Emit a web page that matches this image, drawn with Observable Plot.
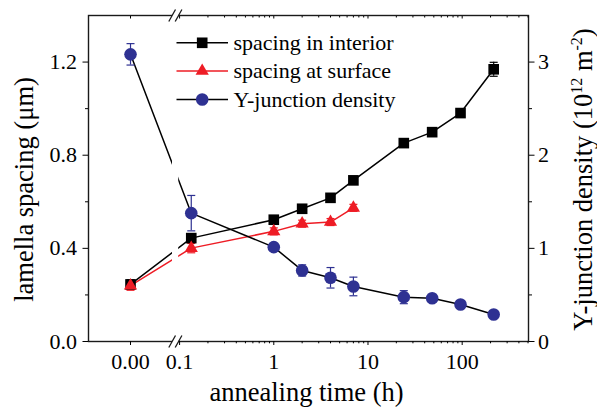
<!DOCTYPE html>
<html>
<head>
<meta charset="utf-8">
<script src="https://cdn.jsdelivr.net/npm/d3@7"></script>
<script src="https://cdn.jsdelivr.net/npm/@observablehq/plot@0.6"></script>
<style>
  html, body { margin: 0; padding: 0; background: #fff; }
  #chart svg { display: block; }
  #chart svg text { font-family: 'Liberation Serif', 'Times New Roman', serif !important; }
</style>
</head>
<body>
<div id="chart"></div>
<script>
// ---------------- data ----------------
const timeInterior = [0, 0.133, 1, 2, 4, 7, 24, 48, 96, 216];
const spacingInterior = [0.245, 0.444, 0.523, 0.570, 0.617, 0.692, 0.852, 0.899, 0.981, 1.169];
const errInterior = [0.02, 0.015, 0.01, 0.01, 0.01, 0.01, 0.015, 0.015, 0.015, 0.03];

const timeSurface = [0, 0.133, 1, 2, 4, 7];
const spacingSurface = [0.240, 0.401, 0.473, 0.506, 0.513, 0.574];
const errSurface = [0.02, 0.02, 0.015, 0.015, 0.015, 0.015];

const timeDensity = [0, 0.133, 1, 2, 4, 7, 24, 48, 96, 216];
const density = [3.083, 1.378, 1.013, 0.763, 0.684, 0.591, 0.476, 0.465, 0.397, 0.290];
const errDensity = [0.115, 0.19, 0.04, 0.06, 0.11, 0.10, 0.07, 0.04, 0.03, 0.03];

const xTickValues = [0, 0.1, 1, 10, 100];
const xTickLabels = ["0.00", "0.1", "1", "10", "100"];
const xMinorValues = [0.2, 0.3, 0.4, 0.5, 0.6, 0.7, 0.8, 0.9,
                      2, 3, 4, 5, 6, 7, 8, 9,
                      20, 30, 40, 50, 60, 70, 80, 90,
                      200, 300, 400, 500];
const yTickValues = [0, 0.4, 0.8, 1.2];
const yTickLabels = ["0.0", "0.4", "0.8", "1.2"];
const yMinorValues = [0.2, 0.6, 1.0];
const densityTickLabels = ["0", "1", "2", "3"];
const legendLabels = ["spacing in interior", "spacing at surface", "Y-junction density"];

const xLabel = "annealing time (h)";
const yLabel = "lamella spacing (\u03bcm)";
const y2Label = "Y-junction density (10^12 m^-2)";

// ---------------- layout / styling ----------------
const W = 597, H = 410;
const ML = 88, MR = 69, MT = 15, MB = 69;
const X_DOMAIN = [-1.967, 2.704];   // in "broken-axis" units (log10 for t >= 0.1)
const Y_DOMAIN = [0, 1.4];
const U_ZERO = -1.521;              // where t = 0 sits on the broken axis
const DENSITY_RATIO = 2.5;          // right axis units per left axis unit
const RED = "#ee1c25";
const NAVY = "#2e3192";
const FONT = "Liberation Serif";

const pos = t => (t === 0 ? U_ZERO : Math.log10(t));
const xPx2u = px => X_DOMAIN[0] + (px - ML) / (W - ML - MR) * (X_DOMAIN[1] - X_DOMAIN[0]);
const yPx2v = py => Y_DOMAIN[0] + (H - MB - py) / (H - MB - MT) * (Y_DOMAIN[1] - Y_DOMAIN[0]);

const interior = timeInterior.map((t, i) => ({u: pos(t), v: spacingInterior[i], e: errInterior[i]}));
const surface = timeSurface.map((t, i) => ({u: pos(t), v: spacingSurface[i], e: errSurface[i]}));
const dens = timeDensity.map((t, i) => ({u: pos(t), v: density[i] / DENSITY_RATIO, e: errDensity[i] / DENSITY_RATIO}));

const capSymbol = { draw(ctx) { ctx.moveTo(-4, 0); ctx.lineTo(4, 0); } };

const errBars = (data, color) => [
  Plot.ruleX(data, {x: "u", y1: d => d.v - d.e, y2: d => d.v + d.e, stroke: color, strokeWidth: 1.2}),
  Plot.dot(data, {x: "u", y: d => d.v - d.e, symbol: capSymbol, stroke: color, strokeWidth: 1.2, fill: "none"}),
  Plot.dot(data, {x: "u", y: d => d.v + d.e, symbol: capSymbol, stroke: color, strokeWidth: 1.2, fill: "none"})
];

// legend rows
const legendRowsPy = [42.3, 70.5, 99];
const legendStyles = [
  {line: "black", symbol: "square", fill: "black", r: 6},
  {line: RED, symbol: "triangle", fill: RED, r: 4.9},
  {line: "black", symbol: "circle", fill: NAVY, r: 6.3}
];
const legendMarks = legendLabels.flatMap((label, i) => {
  const y = yPx2v(legendRowsPy[i]);
  const s = legendStyles[i];
  return [
    Plot.link([label], {x1: () => xPx2u(176), x2: () => xPx2u(227.5), y1: () => y, y2: () => y, stroke: s.line, strokeWidth: 1.5}),
    Plot.dot([label], {x: () => xPx2u(201.7), y: () => y, symbol: s.symbol, r: s.r, fill: s.fill, stroke: "none"}),
    Plot.text([label], {x: () => xPx2u(233), y: () => y, text: d => d, textAnchor: "start", lineAnchor: "middle", fontSize: 22, fontFamily: FONT, fill: "black"})
  ];
});

// axis-break slashes (pixel layout converted to data units)
const breakSlashes = [];
for (const axisPy of [H - MB, MT]) {
  for (const off of [0, 6.4]) {
    breakSlashes.push({x1: xPx2u(168.3 + off), y1: yPx2v(axisPy + 6), x2: xPx2u(175 + off), y2: yPx2v(axisPy - 6)});
  }
}

const plot = Plot.plot({
  width: W, height: H,
  marginLeft: ML, marginRight: MR, marginTop: MT, marginBottom: MB,
  style: {fontFamily: FONT, fontSize: "22px", color: "black", background: "white"},
  x: {type: "linear", domain: X_DOMAIN},
  y: {type: "linear", domain: Y_DOMAIN},
  marks: [
    // connecting lines
    Plot.line(interior, {x: "u", y: "v", stroke: "black", strokeWidth: 1.5}),
    Plot.line(surface, {x: "u", y: "v", stroke: RED, strokeWidth: 1.5}),
    Plot.line(dens, {x: "u", y: "v", stroke: "black", strokeWidth: 1.5}),
    // frame
    Plot.frame({stroke: "#1a1a1a", strokeWidth: 1.4}),
    // axis break white band
    Plot.rect([0], {x1: () => xPx2u(172), x2: () => xPx2u(178.2), y1: () => yPx2v(H - MB + 2), y2: () => yPx2v(MT - 2), fill: "white"}),
    Plot.link(breakSlashes, {x1: "x1", y1: "y1", x2: "x2", y2: "y2", stroke: "#1a1a1a", strokeWidth: 1.3}),
    // axes
    Plot.axisX({anchor: "bottom", ticks: xTickValues.map(pos), tickFormat: (d, i) => xTickLabels[i], tickSize: 4, tickPadding: 8, fontSize: 22, fontFamily: FONT, fontVariant: "normal", label: null}),
    Plot.axisX({anchor: "bottom", ticks: xMinorValues.map(pos), tickFormat: () => "", tickSize: 2.3, label: null}),
    Plot.axisX({anchor: "top", ticks: xTickValues.map(pos), tickFormat: () => "", tickSize: 2.5, dy: 2.5, label: null}),
    Plot.axisX({anchor: "top", ticks: xMinorValues.map(pos), tickFormat: () => "", tickSize: 1.5, dy: 1.5, label: null}),
    Plot.axisY({anchor: "left", ticks: yTickValues, tickFormat: (d, i) => yTickLabels[i], tickSize: 5.5, tickPadding: 6, fontSize: 22, fontFamily: FONT, fontVariant: "normal", label: null}),
    Plot.axisY({anchor: "left", ticks: yMinorValues, tickFormat: () => "", tickSize: 3, label: null}),
    Plot.axisY({anchor: "right", ticks: yTickValues, tickFormat: (d, i) => densityTickLabels[i], tickSize: 5.5, tickPadding: 4, fontSize: 22, fontFamily: FONT, fontVariant: "normal", label: null}),
    Plot.axisY({anchor: "right", ticks: yMinorValues, tickFormat: () => "", tickSize: 3, label: null}),
    // error bars
    ...errBars(interior, "black"),
    ...errBars(surface, RED),
    ...errBars(dens, NAVY),
    // markers
    Plot.dot(interior, {x: "u", y: "v", symbol: "square", r: 6, fill: "black", stroke: "none"}),
    Plot.dot(surface, {x: "u", y: "v", symbol: "triangle", r: 4.9, fill: RED, stroke: "none"}),
    Plot.dot(dens, {x: "u", y: "v", symbol: "circle", r: 6.3, fill: NAVY, stroke: "none"}),
    // legend
    ...legendMarks,
    // axis titles
    Plot.text([xLabel], {frameAnchor: "bottom", text: d => d, textAnchor: "middle", dx: -2, dy: 51.5, lineAnchor: "middle", fontSize: 26.5, fontFamily: FONT, fill: "black"}),
    Plot.text([yLabel], {frameAnchor: "left", text: d => d, textAnchor: "middle", rotate: -90, dx: -63.5, dy: 11, lineAnchor: "middle", fontSize: 26.5, fontFamily: FONT, fill: "black"}),
    Plot.text([y2Label], {frameAnchor: "right", text: d => d, textAnchor: "middle", rotate: -90, dx: 55.5, dy: 1, lineAnchor: "middle", fontSize: 26.5, fontFamily: FONT, fill: "black"})
  ]
});

document.getElementById("chart").appendChild(plot);

// superscripts on right-axis title
d3.select(plot).selectAll("text")
  .filter(function () { return this.textContent === y2Label; })
  .each(function () {
    const t = d3.select(this);
    t.text(null);
    t.append("tspan").text("Y-junction density (10");
    t.append("tspan").attr("dy", -10).attr("font-size", "16px").text("12");
    t.append("tspan").attr("dy", 10).text(" m");
    t.append("tspan").attr("dy", -10).attr("font-size", "16px").text("-2");
    t.append("tspan").attr("dy", 10).text(")");
  });
</script>
</body>
</html>
